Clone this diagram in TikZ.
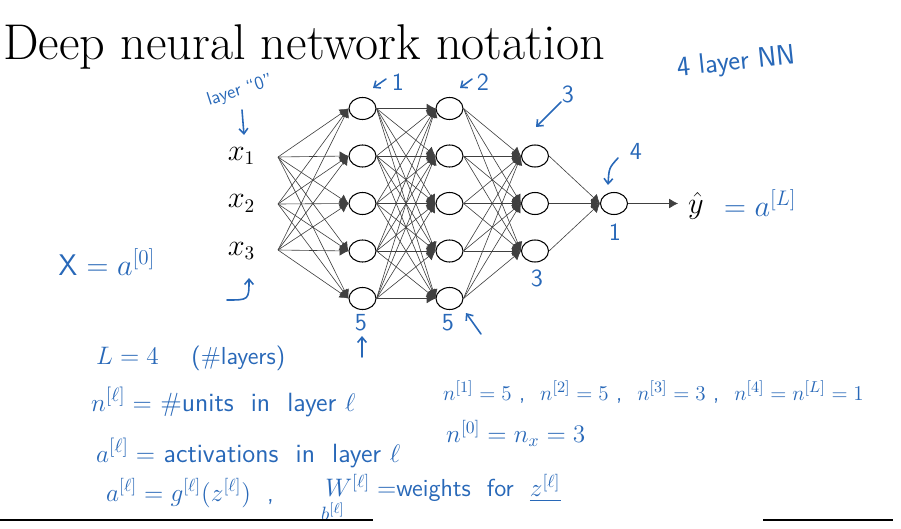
\documentclass[tikz,border=0pt]{standalone}
\usepackage{amsmath}
\usepackage{tikz}
\usetikzlibrary{shapes.geometric, arrows.meta}
\definecolor{pen}{RGB}{40,104,184}
\tikzset{
  unit/.style={ellipse, draw=black, line width=0.6pt, minimum width=0.54cm, minimum height=0.44cm, inner sep=0pt},
  edge/.style={draw=black!75, line width=0.35pt, -{Latex[length=5pt,width=5.5pt]}},
  ink/.style={text=pen, font=\sffamily\fontsize{14}{16}\selectfont},
  inkarrow/.style={draw=pen, line width=0.9pt, line cap=round, -{Straight Barb[length=3pt,width=5pt]}},
  inp/.style={font=\fontsize{16}{18}\selectfont}
}

\begin{document}
\begin{tikzpicture}
\useasboundingbox (0,0) rectangle (18.02,10.56);
\node[anchor=base west, inner sep=0pt, font=\fontsize{28.6}{32}\selectfont] (title) at (0.06,9.36) {Deep neural network notation};
% inputs
\node[inp] (x1) at (4.83,7.44) {$x_1$};
\node[inp] (x2) at (4.83,6.49) {$x_2$};
\node[inp] (x3) at (4.83,5.54) {$x_3$};
\coordinate (I1) at (5.56,7.42);
\coordinate (I2) at (5.56,6.48);
\coordinate (I3) at (5.56,5.56);
% layer 1
\node[unit] (A1) at (7.25,8.39) {};
\node[unit] (A2) at (7.25,7.44) {};
\node[unit] (A3) at (7.25,6.49) {};
\node[unit] (A4) at (7.25,5.54) {};
\node[unit] (A5) at (7.25,4.59) {};
% layer 2
\node[unit] (B1) at (8.99,8.39) {};
\node[unit] (B2) at (8.99,7.44) {};
\node[unit] (B3) at (8.99,6.49) {};
\node[unit] (B4) at (8.99,5.54) {};
\node[unit] (B5) at (8.99,4.59) {};
% layer 3
\node[unit] (C1) at (10.70,7.44) {};
\node[unit] (C2) at (10.70,6.49) {};
\node[unit] (C3) at (10.70,5.54) {};
% layer 4
\node[unit] (D1) at (12.28,6.49) {};
\coordinate (Y) at (13.56,6.49);
\node[inp] (yhat) at (13.92,6.45) {$\hat{y}$};
% input -> layer 1
\draw[edge] (I1) -- (A1.west);
\draw[edge] (I1) -- (A2.west);
\draw[edge] (I1) -- (A3.west);
\draw[edge] (I1) -- (A4.west);
\draw[edge] (I1) -- (A5.west);
\draw[edge] (I2) -- (A1.west);
\draw[edge] (I2) -- (A2.west);
\draw[edge] (I2) -- (A3.west);
\draw[edge] (I2) -- (A4.west);
\draw[edge] (I2) -- (A5.west);
\draw[edge] (I3) -- (A1.west);
\draw[edge] (I3) -- (A2.west);
\draw[edge] (I3) -- (A3.west);
\draw[edge] (I3) -- (A4.west);
\draw[edge] (I3) -- (A5.west);
% layer 1 -> layer 2
\draw[edge] (A1.east) -- (B1.west);
\draw[edge] (A1.east) -- (B2.west);
\draw[edge] (A1.east) -- (B3.west);
\draw[edge] (A1.east) -- (B4.west);
\draw[edge] (A1.east) -- (B5.west);
\draw[edge] (A2.east) -- (B1.west);
\draw[edge] (A2.east) -- (B2.west);
\draw[edge] (A2.east) -- (B3.west);
\draw[edge] (A2.east) -- (B4.west);
\draw[edge] (A2.east) -- (B5.west);
\draw[edge] (A3.east) -- (B1.west);
\draw[edge] (A3.east) -- (B2.west);
\draw[edge] (A3.east) -- (B3.west);
\draw[edge] (A3.east) -- (B4.west);
\draw[edge] (A3.east) -- (B5.west);
\draw[edge] (A4.east) -- (B1.west);
\draw[edge] (A4.east) -- (B2.west);
\draw[edge] (A4.east) -- (B3.west);
\draw[edge] (A4.east) -- (B4.west);
\draw[edge] (A4.east) -- (B5.west);
\draw[edge] (A5.east) -- (B1.west);
\draw[edge] (A5.east) -- (B2.west);
\draw[edge] (A5.east) -- (B3.west);
\draw[edge] (A5.east) -- (B4.west);
\draw[edge] (A5.east) -- (B5.west);
% layer 2 -> layer 3
\draw[edge] (B1.east) -- (C1.west);
\draw[edge] (B1.east) -- (C2.west);
\draw[edge] (B1.east) -- (C3.west);
\draw[edge] (B2.east) -- (C1.west);
\draw[edge] (B2.east) -- (C2.west);
\draw[edge] (B2.east) -- (C3.west);
\draw[edge] (B3.east) -- (C1.west);
\draw[edge] (B3.east) -- (C2.west);
\draw[edge] (B3.east) -- (C3.west);
\draw[edge] (B4.east) -- (C1.west);
\draw[edge] (B4.east) -- (C2.west);
\draw[edge] (B4.east) -- (C3.west);
\draw[edge] (B5.east) -- (C1.west);
\draw[edge] (B5.east) -- (C2.west);
\draw[edge] (B5.east) -- (C3.west);
% layer 3 -> layer 4
\draw[edge] (C1.east) -- (D1.west);
\draw[edge] (C2.east) -- (D1.west);
\draw[edge] (C3.east) -- (D1.west);
\draw[edge] (D1.east) -- (Y);
% handwritten notes
\node[ink, rotate=6, font=\sffamily\fontsize{16}{18}\selectfont] (nn) at (14.72,9.30) {4 layer NN};
\node[ink, rotate=18, inner sep=0pt, font=\sffamily\fontsize{10.5}{12}\selectfont] (l0) at (4.80,8.74) {layer ``0''};
\coordinate (p0) at (4.84,8.36);
\coordinate (q0) at (4.88,7.86);
\draw[inkarrow] (p0) -- (q0);
\coordinate (p1) at (4.54,4.56);
\coordinate (q1) at (4.98,5.0);
\draw[inkarrow] (p1) .. controls (4.98,4.56) .. (q1);
\node[ink, inner sep=0pt] (k1) at (7.96,8.92) {1};
\coordinate (r1) at (7.72,8.98);
\draw[inkarrow] (r1) -- (7.46,8.80);
\node[ink, inner sep=0pt] (k2) at (9.66,8.92) {2};
\coordinate (r2) at (9.44,8.98);
\draw[inkarrow] (r2) -- (9.20,8.80);
\node[ink] (k3) at (11.36,8.68) {3};
\coordinate (r3) at (11.22,8.52);
\draw[inkarrow] (r3) -- (10.72,8.02);
\node[ink] (k4) at (12.72,7.54) {4};
\coordinate (r4) at (12.36,7.40);
\draw[inkarrow] (r4) .. controls (12.18,7.20) .. (12.16,6.86);
\node[ink] (s1) at (7.22,4.10) {5};
\coordinate (u1) at (7.24,3.42);
\draw[inkarrow] (u1) -- (7.24,3.84);
\node[ink] (s2) at (8.96,4.10) {5};
\coordinate (u2) at (9.62,3.88);
\draw[inkarrow] (u2) -- (9.32,4.30);
\node[ink] (s3) at (10.74,5.0) {3};
\node[ink] (s4) at (12.30,5.92) {1};
\node[ink, font=\sffamily\fontsize{17}{19}\selectfont] (xa) at (2.14,5.32) {X $= a^{[0]}$};
\node[ink, anchor=west, font=\sffamily\fontsize{17}{19}\selectfont] (ya) at (14.36,6.50) {$= a^{[L]}$};
\node[ink, anchor=west] (L4) at (1.8,3.40) {$L = 4$ \quad (\#layers)};
\node[ink, anchor=west, font=\sffamily\fontsize{15}{17}\selectfont] (nl) at (1.7,2.52) {$n^{[\ell]} =$ \#units \ in \ layer $\ell$};
\node[ink, anchor=west, font=\sffamily\fontsize{15}{17}\selectfont] (al) at (1.8,1.50) {$a^{[\ell]} =$ activations \ in \ layer $\ell$};
\node[ink, anchor=west] (ag) at (2.0,0.70) {$a^{[\ell]} = g^{[\ell]}(z^{[\ell]})$ \ ,};
\node[ink, anchor=west, inner sep=0pt] (wl) at (6.50,0.80) {$W^{[\ell]}=$weights \ for \ $\underline{z^{[\ell]}}$};
\node[ink, inner sep=0pt, font=\sffamily\fontsize{11}{12}\selectfont] (bl) at (6.66,0.32) {$b^{[\ell]}$};
\node[ink, anchor=west, font=\sffamily\fontsize{13}{15}\selectfont] (nk) at (8.74,2.72) {$n^{[1]} = 5$ , \ $n^{[2]} = 5$ , \ $n^{[3]} = 3$ , \ $n^{[4]} = n^{[L]} = 1$};
\node[ink, anchor=west] (n0) at (8.80,1.90) {$n^{[0]} = n_x = 3$};
% bottom bars
\draw[line width=1.1pt] (0,0.16) -- (7.46,0.16);
\draw[line width=1.1pt] (15.26,0.16) -- (17.86,0.16);
\end{tikzpicture}
\end{document}
